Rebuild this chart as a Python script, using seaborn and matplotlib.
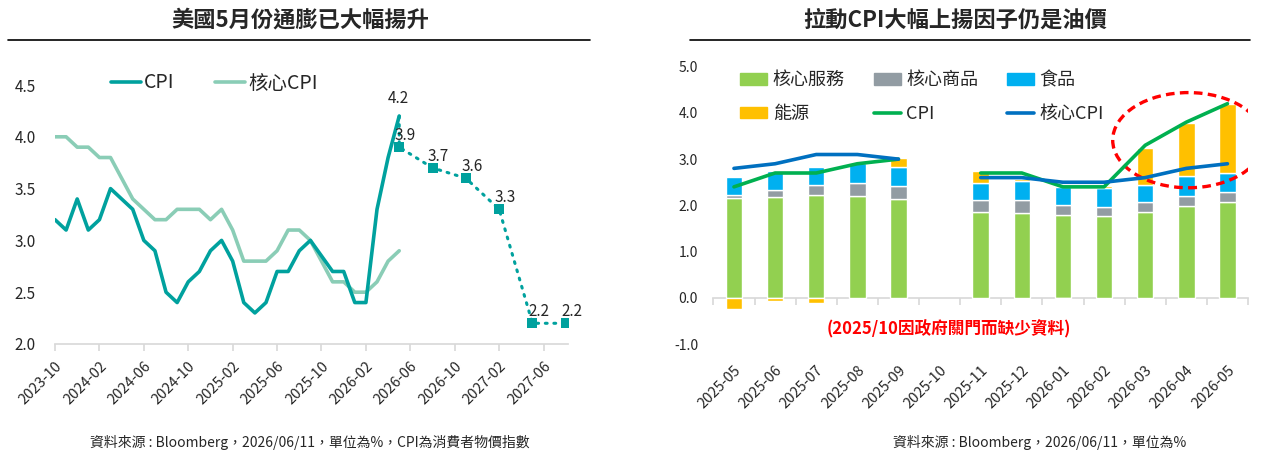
import numpy as np
import pandas as pd
import matplotlib
matplotlib.use('Agg')
import matplotlib.pyplot as plt
import seaborn as sns
from matplotlib.patches import Patch, Ellipse
from matplotlib.lines import Line2D

# 左圖：CPI 與 核心CPI (2025-10 因政府關門缺資料)
months = ['2023-10', '2023-11', '2023-12', '2024-01', '2024-02', '2024-03', '2024-04',
          '2024-05', '2024-06', '2024-07', '2024-08', '2024-09', '2024-10', '2024-11',
          '2024-12', '2025-01', '2025-02', '2025-03', '2025-04', '2025-05', '2025-06',
          '2025-07', '2025-08', '2025-09', '2025-11', '2025-12', '2026-01', '2026-02',
          '2026-03', '2026-04', '2026-05']
cpi = [3.2, 3.1, 3.4, 3.1, 3.2, 3.5, 3.4, 3.3, 3.0, 2.9, 2.5, 2.4, 2.6, 2.7, 2.9, 3.0,
       2.8, 2.4, 2.3, 2.4, 2.7, 2.7, 2.9, 3.0, 2.7, 2.7, 2.4, 2.4, 3.3, 3.8, 4.2]
core_cpi = [4.0, 4.0, 3.9, 3.9, 3.8, 3.8, 3.6, 3.4, 3.3, 3.2, 3.2, 3.3, 3.3, 3.3, 3.2, 3.3,
            3.1, 2.8, 2.8, 2.8, 2.9, 3.1, 3.1, 3.0, 2.6, 2.6, 2.5, 2.5, 2.6, 2.8, 2.9]
fc_months = ['2026-05', '2026-08', '2026-11', '2027-02', '2027-05', '2027-08']
fc_values = [3.9, 3.7, 3.6, 3.3, 2.2, 2.2]
left_ticks = ['2023-10', '2024-02', '2024-06', '2024-10', '2025-02', '2025-06',
              '2025-10', '2026-02', '2026-06', '2026-10', '2027-02', '2027-06']

# 右圖：CPI 分項貢獻
cats = ['2025-05', '2025-06', '2025-07', '2025-08', '2025-09', '2025-10', '2025-11',
        '2025-12', '2026-01', '2026-02', '2026-03', '2026-04', '2026-05']
core_services = [2.16, 2.18, 2.22, 2.21, 2.13, np.nan, 1.85, 1.83, 1.79, 1.76, 1.85, 1.98, 2.07]
core_goods = [0.06, 0.16, 0.22, 0.28, 0.29, np.nan, 0.26, 0.28, 0.21, 0.20, 0.22, 0.22, 0.21]
food = [0.40, 0.41, 0.39, 0.42, 0.41, np.nan, 0.37, 0.42, 0.40, 0.42, 0.37, 0.43, 0.41]
energy = [-0.25, -0.07, -0.12, 0.03, 0.20, np.nan, 0.27, 0.05, -0.03, 0.04, 0.80, 1.15, 1.50]
cpi_r = [2.4, 2.7, 2.7, 2.9, 3.0, np.nan, 2.7, 2.7, 2.4, 2.4, 3.3, 3.8, 4.2]
core_r = [2.8, 2.9, 3.1, 3.1, 3.0, np.nan, 2.6, 2.6, 2.5, 2.5, 2.6, 2.8, 2.9]


def midx(s):
    y, m = s.split('-')
    return (int(y) - 2023) * 12 + int(m) - 10


sns.set_theme(style='white')
plt.rcParams['font.family'] = ['Noto Sans CJK TC', 'DejaVu Sans']
plt.rcParams['axes.unicode_minus'] = False

C_CPI = '#00A19E'
C_CORE = '#8ACDB6'

fig = plt.figure(figsize=(12.72, 4.53), dpi=100)

# ---------- 左圖 ----------
ax1 = fig.add_axes([55 / 1272, 1 - 344 / 453, 513 / 1272, 259 / 453])
df_l = pd.DataFrame({'x': [midx(m) for m in months], 'CPI': cpi, '核心CPI': core_cpi})
sns.lineplot(data=df_l, x='x', y='核心CPI', ax=ax1, color=C_CORE, lw=2.6)
sns.lineplot(data=df_l, x='x', y='CPI', ax=ax1, color=C_CPI, lw=2.6)

fx = [midx(m) for m in fc_months]
ax1.plot([df_l['x'].iloc[-1]] + fx, [cpi[-1]] + fc_values, color=C_CPI, lw=2.2,
         ls=(0, (0.6, 2.2)), dash_capstyle='round')
ax1.scatter(fx, fc_values, marker='s', s=42, color=C_CPI, zorder=5, lw=0)

ax1.annotate(f'{cpi[-1]:.1f}', (df_l['x'].iloc[-1], cpi[-1]), xytext=(-1, 9),
             textcoords='offset pixels', ha='center', va='bottom', fontsize=11)
for x, v in zip(fx, fc_values):
    ax1.annotate(f'{v:.1f}', (x, v), xytext=(6, 3),
                 textcoords='offset pixels', ha='center', va='bottom', fontsize=11)

ax1.set_xlim(0, 46.2)
ax1.set_ylim(2.0, 4.5)
ax1.set_yticks(np.arange(2.0, 4.51, 0.5))
ax1.set_yticklabels([f'{v:.1f}' for v in np.arange(2.0, 4.51, 0.5)], fontsize=11)
ax1.set_xticks([midx(t) for t in left_ticks])
ax1.set_xticklabels(left_ticks, rotation=45, ha='right', rotation_mode='anchor', fontsize=10.5)
ax1.set_xlabel('')
ax1.set_ylabel('')
for s in ['left', 'top', 'right']:
    ax1.spines[s].set_visible(False)
ax1.spines['bottom'].set_color('#D9D9D9')
ax1.tick_params(axis='y', length=0, pad=14)
ax1.tick_params(axis='x', length=5, color='#D9D9D9', direction='out', pad=6, bottom=True)

ax1.legend(handles=[Line2D([], [], color=C_CPI, lw=2.6), Line2D([], [], color=C_CORE, lw=2.6)],
           labels=['CPI', '核心CPI'], loc='center left', bbox_to_anchor=(93 / 1272, 1 - 83 / 453),
           bbox_transform=fig.transFigure, frameon=False, ncol=2, fontsize=14,
           handlelength=1.55, handletextpad=0.15, columnspacing=2.1)

# ---------- 右圖 ----------
ax2 = fig.add_axes([713.4 / 1272, 1 - 344 / 453, 534.6 / 1272, 277.3 / 453])
xi = np.arange(len(cats))
cs = np.array(core_services)
cg = np.array(core_goods)
fd = np.array(food)
en = np.array(energy)
w = 0.4
ax2.bar(xi, cs, width=w, color='#92D050', label='核心服務')
ax2.bar(xi, cg, width=w, bottom=cs, color='#929CA3', label='核心商品')
ax2.bar(xi, fd, width=w, bottom=cs + cg, color='#00B0F0', label='食品')
ax2.bar(xi, en, width=w, bottom=np.where(en > 0, cs + cg + fd, 0), color='#FFC000', label='能源')
ax2.plot(xi, cpi_r, color='#00B050', lw=2.6)
ax2.plot(xi, core_r, color='#0070C0', lw=2.6)

ax2.add_patch(Ellipse((11.05, 3.41), 3.68, 2.06, fill=False, ec='#FF0000', lw=2.4,
                      ls=(0, (2.6, 1.6))))
ax2.text(5.22, -0.69, '(2025/10因政府關門而缺少資料)', color='#FF0000', fontsize=12,
         fontweight='bold', ha='center', va='center')

ax2.set_xlim(-0.5, 12.5)
ax2.set_ylim(-1.0, 5.0)
ax2.set_yticks(np.arange(-1, 5.1, 1))
ax2.set_yticklabels([f'{v:.1f}' for v in np.arange(-1, 5.1, 1)], fontsize=10)
ax2.set_xticks(xi)
ax2.set_xticklabels(cats, rotation=45, ha='right', rotation_mode='anchor', fontsize=10.5)
for s in ['left', 'top', 'right', 'bottom']:
    ax2.spines[s].set_visible(False)
ax2.tick_params(axis='y', length=0, pad=11)
ax2.tick_params(axis='x', length=0, pad=14)

sec = ax2.secondary_xaxis(1 / 6)
sec.set_xticks(np.arange(-0.5, 12.6, 1))
sec.set_xticklabels([])
sec.spines['bottom'].set_color('#D9D9D9')
sec.tick_params(axis='x', length=5, color='#D9D9D9', direction='out')

handles = [Patch(color='#92D050'), Patch(color='#FFC000'),
           Patch(color='#929CA3'), Line2D([], [], color='#00B050', lw=2.6),
           Patch(color='#00B0F0'), Line2D([], [], color='#0070C0', lw=2.6)]
labels = ['核心服務', '能源', '核心商品', 'CPI', '食品', '核心CPI']
ax2.legend(handles=handles, labels=labels, ncol=3, loc='upper left',
           bbox_to_anchor=(724 / 1272, 1 - 55 / 453), bbox_transform=fig.transFigure,
           frameon=False, fontsize=13, handlelength=1.5, handleheight=0.6,
           handletextpad=0.3, columnspacing=1.6, labelspacing=0.85)

# ---------- 標題與來源 ----------
fig.text(300 / 1272, 1 - 20 / 453, '美國5月份通膨已大幅揚升', ha='center', va='center',
         fontsize=16, fontweight='bold')
fig.text(955 / 1272, 1 - 20 / 453, '拉動CPI大幅上揚因子仍是油價', ha='center', va='center',
         fontsize=16, fontweight='bold')
fig.add_artist(Line2D([8 / 1272, 590 / 1272], [1 - 40 / 453] * 2, color='black', lw=1.2))
fig.add_artist(Line2D([690 / 1272, 1250 / 1272], [1 - 40 / 453] * 2, color='black', lw=1.2))
fig.text(310 / 1272, 1 - 442 / 453, '資料來源 : Bloomberg，2026/06/11，單位為%，CPI為消費者物價指數',
         ha='center', va='center', fontsize=10)
fig.text(1040 / 1272, 1 - 442 / 453, '資料來源 : Bloomberg，2026/06/11，單位為%',
         ha='center', va='center', fontsize=10)

fig.savefig('out.png', dpi=100)
